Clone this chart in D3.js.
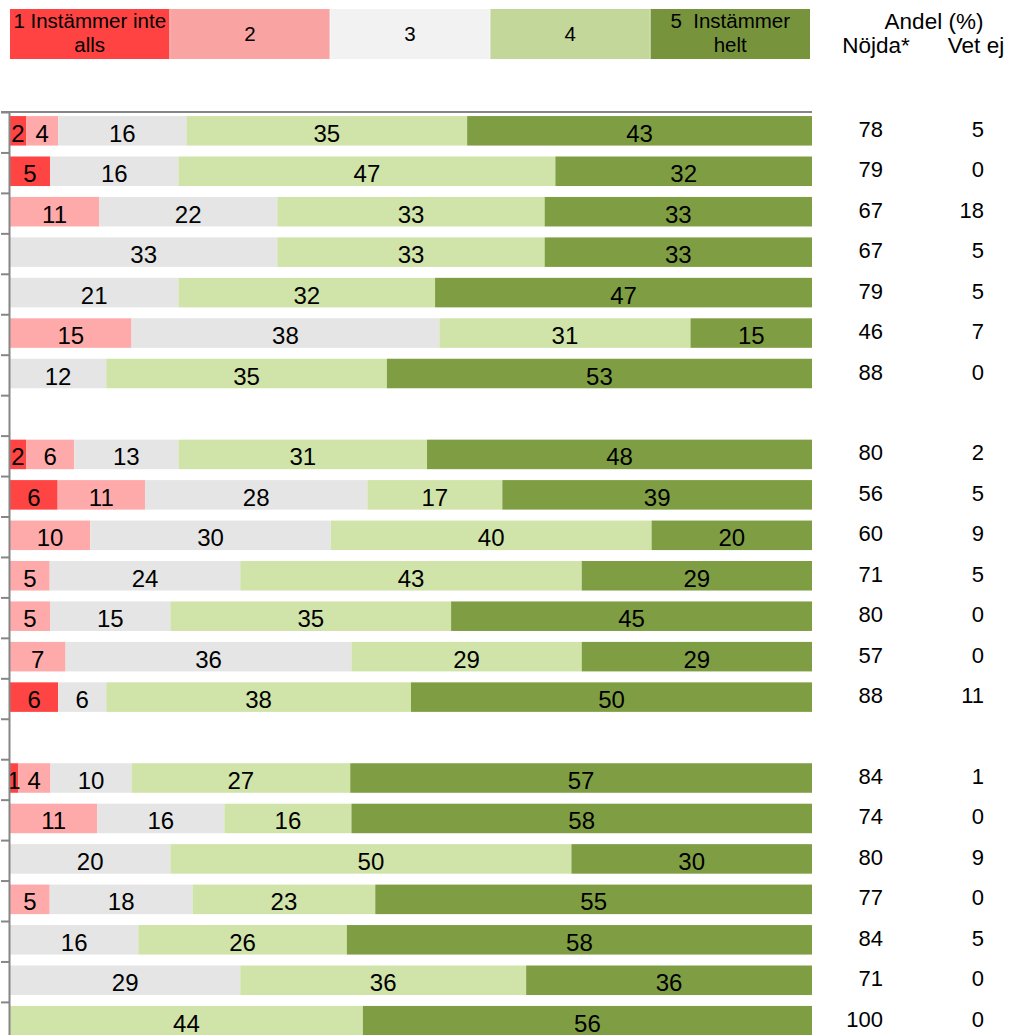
<!DOCTYPE html>
<html>
<head>
<meta charset="utf-8">
<script src="https://cdn.jsdelivr.net/npm/d3@7"></script>
<style>
  html, body { margin: 0; padding: 0; background: #fff; }
  svg { display: block; font-family: "Liberation Sans", Arial, sans-serif; }
</style>
</head>
<body>
<svg id="chart" width="1015" height="1035"></svg>
<script>
// ---- Data ----
// Row order top to bottom; null marks an empty spacer row between groups
const rows = ["A1","A2","A3","A4","A5","A6","A7", null,
              "B1","B2","B3","B4","B5","B6","B7", null,
              "C1","C2","C3","C4","C5","C6","C7"];
const levels = ["1 Instämmer inte alls", "2", "3", "4", "5  Instämmer helt"];
const level1 = [2,5,0,0,0,0,0,   2,6,0,0,0,0,6,   1,0,0,0,0,0,0];
const level2 = [4,0,11,0,0,15,0, 6,11,10,5,5,7,0, 4,11,0,5,0,0,0];
const level3 = [16,16,22,33,21,38,12, 13,28,30,24,15,36,6, 10,16,20,18,16,29,0];
const level4 = [35,47,33,33,32,31,35, 31,17,40,43,35,29,38, 27,16,50,23,26,36,44];
const level5 = [43,32,33,33,47,15,53, 48,39,20,29,45,29,50, 57,58,30,55,58,36,56];
const nojda  = [78,79,67,67,79,46,88, 80,56,60,71,80,57,88, 84,74,80,77,84,71,100];
const vetEj  = [5,0,18,5,5,7,0, 2,5,9,5,0,0,11, 1,0,9,0,5,0,0];

const barColors    = ["#FF4444", "#FFAAAA", "#E5E5E5", "#D0E3A8", "#7F9E43"];
const legendColors = ["#FF4343", "#F9A3A3", "#F2F2F2", "#C4D79B", "#77933C"];
const legendLines  = [["1 Instämmer inte", "alls"], ["2"], ["3"], ["4"], ["5  Instämmer", "helt"]];

// ---- Build table ----
const dataRows = rows.filter(r => r !== null);
const table = dataRows.map((id, i) => ({
  id,
  l1: level1[i], l2: level2[i], l3: level3[i], l4: level4[i], l5: level5[i],
  nojda: nojda[i], vetEj: vetEj[i]
}));
const keys = ["l1","l2","l3","l4","l5"];

const svg = d3.select("#chart");
const rowDomain = rows.map((r, i) => r === null ? "gap" + i : r);

const topY = 112, step = 40.45;
const pIn = 0.27, pOut = 0.1;
const y = d3.scaleBand().domain(rowDomain)
  .range([topY, topY + step * (rows.length - pIn + 2 * pOut)])
  .paddingInner(pIn).paddingOuter(pOut);
const x = d3.scaleLinear().domain([0, 1]).range([10, 812]);

const stack = d3.stack().keys(keys).offset(d3.stackOffsetExpand);
const series = stack(table);

// Bars
const g = svg.append("g");
series.forEach((s, si) => {
  g.selectAll(null).data(s).enter().append("rect")
    .attr("x", d => x(d[0]))
    .attr("y", d => y(d.data.id))
    .attr("width", d => Math.max(0, x(d[1]) - x(d[0])))
    .attr("height", y.bandwidth())
    .attr("fill", barColors[si]);
});
// Bar labels
series.forEach((s, si) => {
  g.selectAll(null).data(s.filter(d => d.data[keys[si]] > 0)).enter().append("text")
    .attr("x", d => (x(d[0]) + x(d[1])) / 2)
    .attr("y", d => y(d.data.id) + y.bandwidth() / 2 + 11)
    .attr("text-anchor", "middle")
    .attr("font-size", 24)
    .attr("fill", "#000")
    .text(d => d.data[keys[si]]);
});

// Axis with ticks at row boundaries
const yB = d3.scaleLinear().domain([0, rows.length]).range([topY, topY + step * rows.length]);
const axis = svg.append("g").attr("transform", "translate(9,0)")
  .call(d3.axisLeft(yB).tickValues(d3.range(0, rows.length + 1)).tickSize(8).tickSizeOuter(0).tickFormat(""));
axis.selectAll("path, line").attr("stroke", "#868686").attr("stroke-width", 2);
svg.append("line").attr("x1", 1).attr("x2", x(1)).attr("y1", topY).attr("y2", topY)
  .attr("stroke", "#868686").attr("stroke-width", 2);

// Right columns
g.selectAll(null).data(table).enter().append("text")
  .attr("x", 883).attr("y", d => y(d.id) + y.bandwidth() / 2 + 6)
  .attr("text-anchor", "end").attr("font-size", 22).text(d => d.nojda);
g.selectAll(null).data(table).enter().append("text")
  .attr("x", 984).attr("y", d => y(d.id) + y.bandwidth() / 2 + 6)
  .attr("text-anchor", "end").attr("font-size", 22).text(d => d.vetEj);

// Legend
const lx = d3.scaleBand().domain(levels).range([10, 810]).paddingInner(0.004);
const lg = svg.append("g");
levels.forEach((lv, i) => {
  lg.append("rect").attr("x", lx(lv)).attr("y", 9).attr("width", lx.bandwidth()).attr("height", 50)
    .attr("fill", legendColors[i]);
  const lines = legendLines[i];
  const cx = lx(lv) + lx.bandwidth() / 2;
  lines.forEach((t, j) => {
    lg.append("text").attr("x", cx)
      .attr("y", lines.length === 1 ? 41 : 28 + j * 24)
      .attr("text-anchor", "middle").attr("font-size", 20.5).attr("fill", "#000")
      .attr("xml:space", "preserve").style("white-space", "pre")
      .text(t);
  });
});
svg.append("text").attr("x", 934).attr("y", 29).attr("text-anchor", "middle").attr("font-size", 22.5).text("Andel (%)");
svg.append("text").attr("x", 876).attr("y", 53).attr("text-anchor", "middle").attr("font-size", 22.5).text("Nöjda*");
svg.append("text").attr("x", 976).attr("y", 53).attr("text-anchor", "middle").attr("font-size", 22.5).text("Vet ej");
</script>
</body>
</html>
